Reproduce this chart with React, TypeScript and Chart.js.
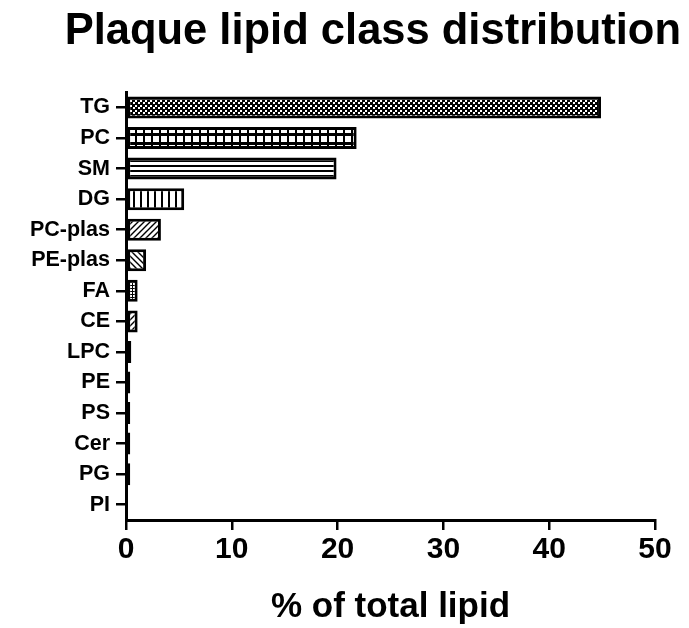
import React, { useEffect, useRef } from "react";
import { Chart, registerables } from "chart.js";

Chart.register(...registerables);

const categories = ["TG", "PC", "SM", "DG", "PC-plas", "PE-plas", "FA", "CE", "LPC", "PE", "PS", "Cer", "PG", "PI"];
const values = [44.9, 21.8, 19.9, 5.5, 3.3, 1.9, 1.1, 1.1, 0.5, 0.4, 0.4, 0.4, 0.4, 0.15];
const patternKinds = ["check", "dots", "hlines", "vlines", "diagR", "diagL", "grid", "diagR", "solid", "solid", "solid", "solid", "solid", "solid"];
const xTicks = [0, 10, 20, 30, 40, 50];

function makePattern(kind: string): CanvasPattern | string {
  if (kind === "solid") return "#000";
  const c = document.createElement("canvas");
  const ctx = c.getContext("2d")!;
  const size: Record<string, [number, number]> = {
    check: [5, 5],
    dots: [8, 9],
    hlines: [6, 5],
    vlines: [7, 6],
    diagR: [6, 6],
    diagL: [6, 6],
    grid: [3, 3],
  };
  const [w, h] = size[kind];
  c.width = w;
  c.height = h;
  if (kind === "check") {
    ctx.fillStyle = "#000";
    ctx.fillRect(0, 0, w, h);
    ctx.fillStyle = "#fff";
    ctx.fillRect(0, 0, 2, 2);
    ctx.fillRect(3, 2, 2, 2);
  } else if (kind === "dots") {
    ctx.fillStyle = "#000";
    ctx.fillRect(0, 0, w, h);
    ctx.fillStyle = "#fff";
    ctx.fillRect(1, 1, 6, 6);
  } else if (kind === "hlines") {
    ctx.fillStyle = "#fff";
    ctx.fillRect(0, 0, w, h);
    ctx.fillStyle = "#000";
    ctx.fillRect(0, 0, w, 2);
  } else if (kind === "vlines") {
    ctx.fillStyle = "#fff";
    ctx.fillRect(0, 0, w, h);
    ctx.fillStyle = "#000";
    ctx.fillRect(0, 0, 2, h);
  } else if (kind === "grid") {
    ctx.fillStyle = "#fff";
    ctx.fillRect(0, 0, w, h);
    ctx.fillStyle = "#000";
    ctx.fillRect(0, 0, w, 1);
    ctx.fillRect(0, 0, 1, h);
  } else {
    ctx.fillStyle = "#fff";
    ctx.fillRect(0, 0, w, h);
    ctx.strokeStyle = "#000";
    ctx.lineWidth = 1.4;
    ctx.beginPath();
    if (kind === "diagR") {
      ctx.moveTo(0, h);
      ctx.lineTo(w, 0);
      ctx.moveTo(-1, 1);
      ctx.lineTo(1, -1);
      ctx.moveTo(w - 1, h + 1);
      ctx.lineTo(w + 1, h - 1);
    } else {
      ctx.moveTo(0, 0);
      ctx.lineTo(w, h);
      ctx.moveTo(w - 1, -1);
      ctx.lineTo(w + 1, 1);
      ctx.moveTo(-1, h - 1);
      ctx.lineTo(1, h + 1);
    }
    ctx.stroke();
  }
  return ctx.createPattern(c, "repeat")!;
}

export default function App() {
  const ref = useRef<HTMLCanvasElement>(null);
  useEffect(() => {
    const canvas = ref.current!;
    const fills = patternKinds.map(makePattern);
    const font = "'Liberation Sans', Arial, sans-serif";
    const chart = new Chart(canvas, {
      type: "bar",
      data: {
        labels: categories,
        datasets: [
          {
            data: values,
            backgroundColor: fills as any,
            borderColor: "#000",
            borderWidth: 3,
            borderSkipped: false,
            barPercentage: 0.72,
            categoryPercentage: 1,
          },
        ],
      },
      options: {
        indexAxis: "y",
        responsive: false,
        animation: false,
        layout: { padding: { left: 0, right: 8, top: 0, bottom: 0 } },
        plugins: {
          legend: { display: false },
          tooltip: { enabled: false },
          title: {
            display: true,
            text: "Plaque lipid class distribution",
            color: "#000",
            font: { family: font, size: 43.5, weight: "bold", lineHeight: 1.2 },
            padding: { top: 6, bottom: 34 },
            align: "end",
          },
        },
        scales: {
          x: {
            type: "linear",
            min: 0,
            max: 50,
            afterBuildTicks: (scale: any) => {
              scale.ticks = xTicks.map((v) => ({ value: v }));
            },
            afterFit: (scale: any) => {
              scale.height = 108;
            },
            grid: {
              display: true,
              drawOnChartArea: false,
              drawTicks: true,
              tickLength: 10,
              color: "#000",
              lineWidth: 2.5,
            },
            border: { display: true, color: "#000", width: 3 },
            ticks: {
              color: "#000",
              padding: 2,
              font: { family: font, size: 30, weight: "bold" },
              maxRotation: 0,
            },
            title: {
              display: true,
              text: "% of total lipid",
              color: "#000",
              font: { family: font, size: 35, weight: "bold" },
              padding: { top: 2, bottom: 0 },
            },
          },
          y: {
            type: "category",
            offset: true,
            afterFit: (scale: any) => {
              scale.width = 126;
            },
            grid: {
              display: true,
              drawOnChartArea: false,
              drawTicks: true,
              tickLength: 10,
              color: "#000",
              lineWidth: 2.5,
              offset: false,
            },
            border: { display: true, color: "#000", width: 3 },
            ticks: {
              color: "#000",
              padding: 6,
              font: { family: font, size: 21.5, weight: "bold" },
              autoSkip: false,
            },
          },
          yRight: {
            type: "category",
            position: "right",
            display: true,
            afterFit: (scale: any) => {
              scale.width = 26;
            },
            grid: { display: false },
            border: { display: false },
            ticks: { display: false },
          },
        },
      },
    });
    return () => chart.destroy();
  }, []);
  return (
    <div style={{ position: "absolute", left: 0, top: 0, width: 689, height: 628, background: "#fff" }}>
      <canvas ref={ref} width={689} height={628} style={{ display: "block" }} />
    </div>
  );
}
